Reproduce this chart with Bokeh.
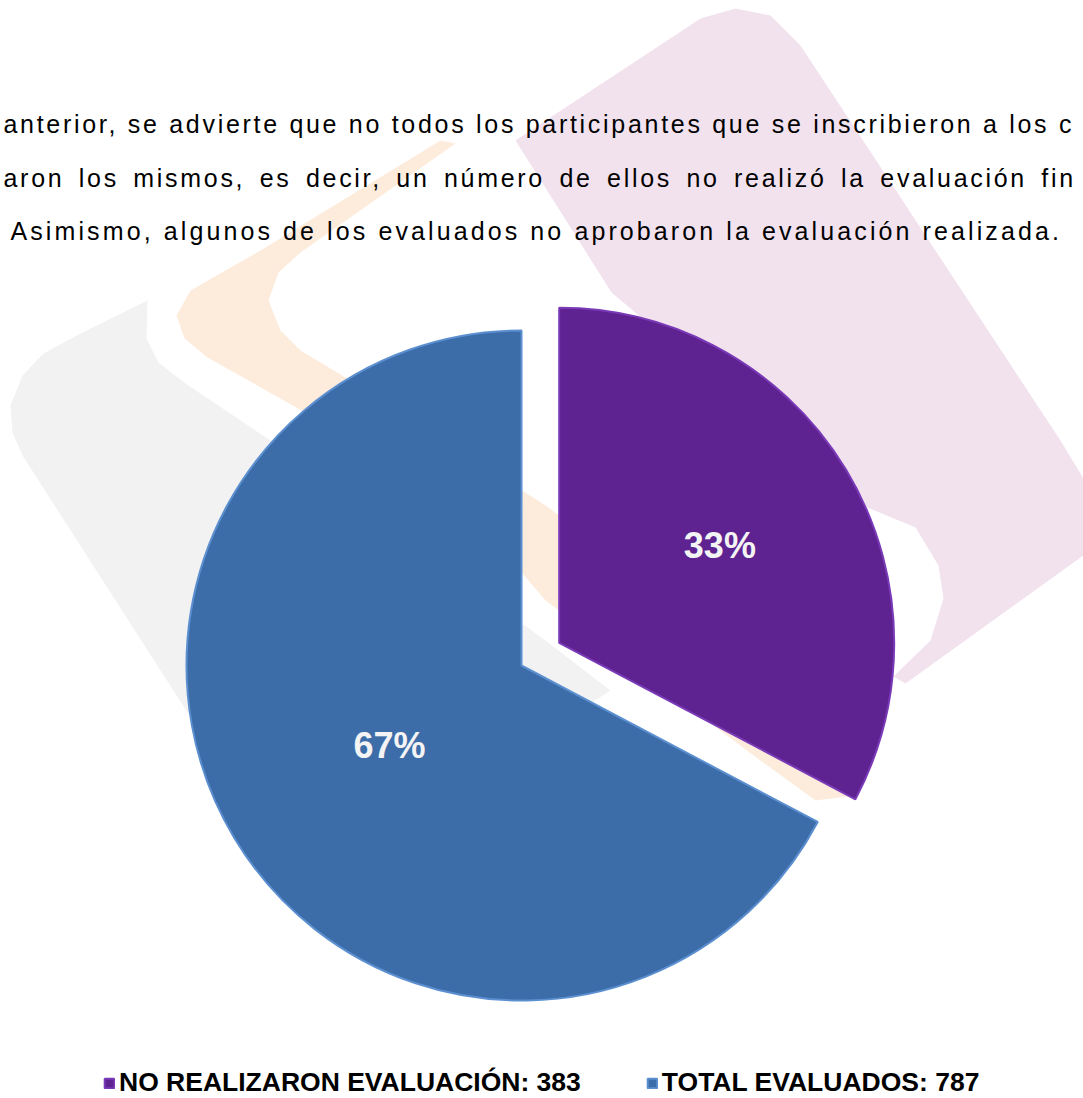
import numpy as np
from bokeh.plotting import figure
from bokeh.models import ColumnDataSource, Range1d, Legend, LegendItem, InlineStyleSheet
from bokeh.layouts import column
from bokeh.core.properties import value
from bokeh.embed import file_html
from bokeh.resources import INLINE

# ---------------- data ----------------
categories = ["NO REALIZARON EVALUACIÓN", "TOTAL EVALUADOS"]
counts = [383, 787]

paragraph_lines = [
    "anterior, se advierte que no todos los participantes que se inscribieron a los c",
    "aron los mismos, es decir, un número de ellos no realizó la evaluación fin",
    "Asimismo, algunos de los evaluados no aprobaron la evaluación realizada.",
]

# ---------------- styles ----------------
slice_colors = ["#5e2390", "#3d6da8"]
slice_edges = ["#7a3ab8", "#5b8fd0"]
explode_px = [44, 0]
label_frac = [0.56, 0.46]

PAGE_W = 1083
PAGE_H = 1098

def dy(v):
    return PAGE_H - v

# decorative watermark shapes (page pixel coordinates)
wm_gray = [(147, 300), (146, 338), (158, 362), (185, 383), (273, 442), (545, 640),
           (610, 690), (560, 722), (205, 728), (187, 712), (22, 455), (12, 432),
           (10, 405), (22, 375), (43, 353), (80, 333)]
wm_orange = [(455, 143), (300, 252), (278, 272), (268, 300), (280, 330), (300, 350),
             (345, 377), (545, 505), (760, 660), (850, 730), (872, 765), (855, 795),
             (815, 800), (760, 760), (545, 600), (459, 499), (344, 434), (207, 357),
             (184, 338), (176, 315), (190, 290), (260, 250), (440, 140)]
wm_pink = [(735, 8), (770, 15), (800, 45), (1060, 440), (1083, 478), (1083, 555),
           (905, 683), (893, 676), (930, 640), (943, 598), (938, 565), (915, 527),
           (867, 507), (611, 292), (515, 140), (700, 18)]
wm_colors = ["#f2f2f2", "#fdecdc", "#f2e2ee"]
wm_shapes = [wm_gray, wm_orange, wm_pink]

xr = Range1d(0, PAGE_W)

def make_fig(page_top, page_bottom, first):
    # every strip after the first overlaps the previous one by 1px (hides seams)
    top = page_top if first else page_top - 1
    f = figure(width=PAGE_W, height=page_bottom - top, x_range=xr,
               y_range=Range1d(dy(page_bottom), dy(top)),
               output_backend="svg", toolbar_location=None, min_border=0,
               x_axis_type=None, y_axis_type=None)
    f.grid.visible = False
    f.outline_line_color = None
    f.background_fill_color = None
    f.border_fill_color = None
    f.patches(xs=[[pt[0] for pt in s] for s in wm_shapes],
              ys=[[dy(pt[1]) for pt in s] for s in wm_shapes],
              fill_color=wm_colors, line_color=None)
    return f

# ---------------- paragraph strips (one per line, own spacing) ----------------
strip_bounds = [(0, 140), (140, 195), (195, 260)]
strip_css = ["letter-spacing: 2.7px;",
             "letter-spacing: 2.7px; word-spacing: 4.8px;",
             "letter-spacing: 3.1px;"]
text_x = [3, 3, 10]
text_base = [123, 177, 230]

figs = []
for i, (t0, t1) in enumerate(strip_bounds):
    first = (i == 0)
    f = make_fig(t0, t1, first)
    css = ":host { " + strip_css[i] + ("" if first else " margin-top: -1px;") + " }"
    f.stylesheets = [InlineStyleSheet(css=css)]
    f.text(x=[text_x[i]], y=[dy(text_base[i])], text=[paragraph_lines[i]],
           text_font=value("Liberation Sans"), text_font_size="25px",
           text_color="#000000", text_align="left", text_baseline="alphabetic")
    figs.append(f)

# ---------------- pie ----------------
bot = make_fig(260, PAGE_H, False)
bot.stylesheets = [InlineStyleSheet(css=":host { margin-top: -1px; }")]

cx, cy, R = 521, dy(665), 335
vals = np.array(counts, dtype=float)
fracs = vals / vals.sum()
sweeps = fracs * 2 * np.pi
starts = np.pi / 2 - np.concatenate([[0], np.cumsum(sweeps)[:-1]])
ends = starts - sweeps
mids = (starts + ends) / 2
xs = cx + np.array(explode_px) * np.cos(mids)
ys = cy + np.array(explode_px) * np.sin(mids)

src = ColumnDataSource(dict(x=xs, y=ys, start=starts, end=ends,
                            color=slice_colors, edge=slice_edges))
wr = bot.wedge(x="x", y="y", radius=R, start_angle="start", end_angle="end",
               direction="clock", fill_color="color", line_color="edge",
               line_width=2, source=src)

lx = xs + np.array(label_frac) * R * np.cos(mids)
ly = ys + np.array(label_frac) * R * np.sin(mids)
pct = [f"{int(round(f * 100))}%" for f in fracs]
bot.text(x=lx, y=ly, text=pct, text_font=value("Liberation Sans"),
         text_font_size="36px", text_font_style="bold", text_color="#f4f4f4",
         text_align="center", text_baseline="middle")

items = [LegendItem(label=f"{c}: {n}", renderers=[wr], index=i)
         for i, (c, n) in enumerate(zip(categories, counts))]
legend = Legend(items=items, orientation="horizontal", location=(103, 0),
                glyph_width=12, glyph_height=12, label_standoff=4, spacing=65,
                padding=0, margin=0, border_line_alpha=0, background_fill_alpha=0,
                label_text_font="Liberation Sans", label_text_font_size="26.5px",
                label_text_font_style="bold", label_text_color="#000000")
bot.add_layout(legend, "center")
figs.append(bot)

layout = column(*figs, spacing=0)
open("out.html", "w").write(file_html(layout, INLINE))
